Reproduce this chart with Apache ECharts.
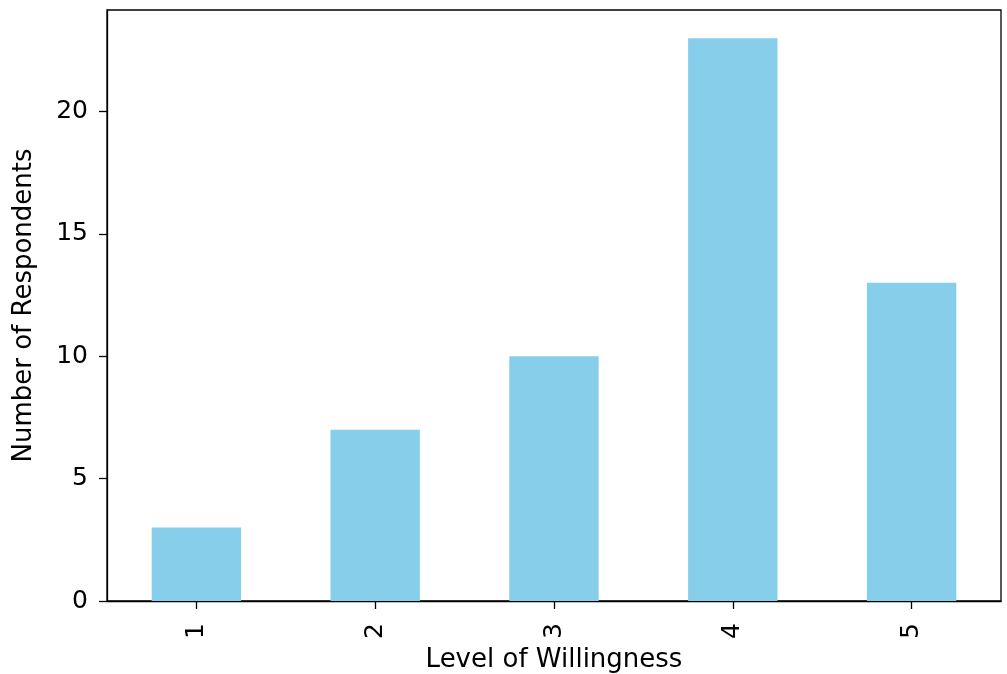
<!DOCTYPE html>
<html><head><meta charset="utf-8">
<script src="https://cdn.jsdelivr.net/npm/echarts@6/dist/echarts.min.js"></script>
<style>html,body{margin:0;padding:0;background:#fff}#c{width:1007px;height:674px}</style>
</head><body><div id="c"></div>
<script>
const categories = ['1','2','3','4','5'];
const respondents = [3, 7, 10, 23, 13];
const yTicks = [0, 5, 10, 15, 20];
const xTitle = 'Level of Willingness';
const yTitle = 'Number of Respondents';

const font = 'DejaVu Sans';
const chart = echarts.init(document.getElementById('c'), null, {renderer:'canvas'});
chart.setOption({
  animation: false,
  grid: {left: 107, right: 6, top: 10, bottom: 73, show: true, borderColor: '#000', borderWidth: 1.3, containLabel: false, outerBoundsMode: 'none'},
  xAxis: {
    type: 'category', data: categories,
    name: xTitle, nameLocation: 'middle', nameGap: 46,
    nameTextStyle: {fontFamily: font, fontSize: 26, color: '#000'},
    axisLine: {show: true, lineStyle: {color: '#000', width: 1.3}},
    axisTick: {show: true, alignWithLabel: true, length: 8, lineStyle: {color: '#000', width: 1.3}},
    axisLabel: {rotate: 90, fontFamily: font, fontSize: 25, color: '#000', margin: 22},
    splitLine: {show: false}
  },
  yAxis: {
    type: 'value', min: 0, max: 24.15, interval: 5,
    name: yTitle, nameLocation: 'middle', nameGap: 70, nameRotate: 90,
    nameTextStyle: {fontFamily: font, fontSize: 26, color: '#000'},
    axisLine: {show: true, lineStyle: {color: '#000', width: 1.3}},
    axisTick: {show: true, length: 8, lineStyle: {color: '#000', width: 1.3}, customValues: yTicks},
    axisLabel: {fontFamily: font, fontSize: 25, color: '#000', margin: 19, customValues: yTicks},
    splitLine: {show: false}
  },
  series: [{
    type: 'bar', data: respondents, barWidth: '50%',
    itemStyle: {color: '#87CEEB'}
  }]
});
</script></body></html>
